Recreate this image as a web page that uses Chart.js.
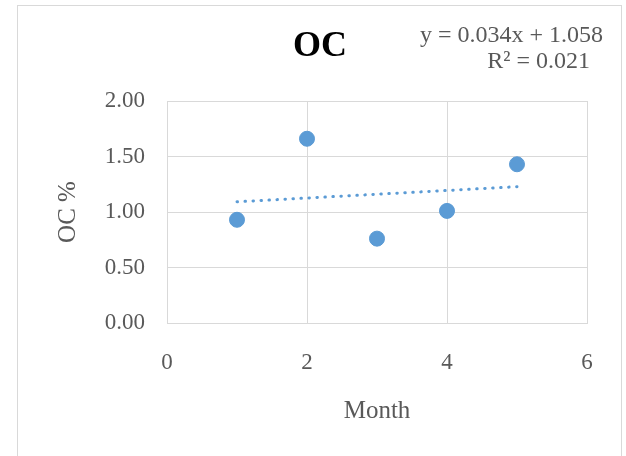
<!DOCTYPE html>
<html>
<head>
<meta charset="utf-8">
<script src="https://cdn.jsdelivr.net/npm/chart.js@4.4.0/dist/chart.umd.min.js"></script>
<style>
  html, body { margin: 0; padding: 0; background: #fff; }
  canvas { display: block; }
</style>
</head>
<body>
<canvas id="ocChart" width="626" height="456"></canvas>
<script>
// data
const months = [1, 2, 3, 4, 5];
const ocValues = [0.93, 1.66, 0.76, 1.01, 1.43];
// trendline ends (linear fit shown on the chart)
const trendX = [1, 5];
const trendY = [1.092, 1.228];
const xTicks = [0, 2, 4, 6];
const yTicks = [0, 0.5, 1, 1.5, 2];
const equation = ["y = 0.034x + 1.058", "R² = 0.021"];

const serif = "'Liberation Serif', 'Times New Roman', serif";
const grey = "#595959";
const blue = "#5B9BD5";

// outer frame, title and the trendline label
const decor = {
  id: "decor",
  beforeDraw(chart) {
    const ctx = chart.ctx;
    ctx.save();
    ctx.fillStyle = "#fff";
    ctx.fillRect(0, 0, chart.width, chart.height);
    ctx.strokeStyle = "#d9d9d9";
    ctx.lineWidth = 1;
    ctx.strokeRect(17.5, 5.5, 604, 470);
    ctx.restore();
  },
  afterDraw(chart) {
    const ctx = chart.ctx;
    ctx.save();
    ctx.fillStyle = "#000";
    ctx.font = "bold 36px " + serif;
    ctx.textAlign = "center";
    ctx.textBaseline = "middle";
    ctx.fillText("OC", 320, 47);

    ctx.fillStyle = grey;
    ctx.font = "24px " + serif;
    ctx.textAlign = "right";
    ctx.textBaseline = "alphabetic";
    ctx.fillText(equation[0], 603, 42);
    ctx.fillText(equation[1], 590, 68);
    ctx.restore();
  }
};

new Chart(document.getElementById("ocChart"), {
  type: "scatter",
  data: {
    datasets: [
      {
        label: "OC",
        data: months.map((m, i) => ({ x: m, y: ocValues[i] })),
        backgroundColor: blue,
        borderColor: blue,
        pointRadius: 7.5,
        pointHoverRadius: 7.5,
        order: 1
      },
      {
        label: "Linear (OC)",
        type: "line",
        data: trendX.map((m, i) => ({ x: m, y: trendY[i] })),
        borderColor: blue,
        borderWidth: 3,
        borderDash: [0.5, 7.5],
        borderCapStyle: "round",
        pointRadius: 0,
        fill: false,
        order: 2
      }
    ]
  },
  options: {
    responsive: false,
    animation: false,
    layout: { padding: { left: 18, right: 39, top: 101, bottom: 30 } },
    plugins: {
      legend: { display: false },
      title: { display: false },
      tooltip: { enabled: false }
    },
    scales: {
      x: {
        type: "linear",
        min: 0,
        max: 6,
        afterBuildTicks: (scale) => { scale.ticks = xTicks.map(v => ({ value: v })); },
        afterFit: (scale) => { scale.height = 103; },
        grid: { color: "#d9d9d9", drawTicks: false },
        border: { color: "#d9d9d9" },
        ticks: { padding: 26, color: grey, font: { family: serif, size: 23 } },
        title: {
          display: true,
          text: "Month",
          color: grey,
          padding: { top: 0, bottom: 0 },
          font: { family: serif, size: 25 }
        }
      },
      y: {
        min: 0,
        max: 2,
        afterBuildTicks: (scale) => { scale.ticks = yTicks.map(v => ({ value: v })); },
        afterFit: (scale) => { scale.width = 149; },
        grid: { color: "#d9d9d9", drawTicks: false },
        border: { color: "#d9d9d9" },
        ticks: {
          padding: 22,
          color: grey,
          font: { family: serif, size: 23 },
          callback: (v) => v.toFixed(2)
        },
        title: {
          display: true,
          text: "OC %",
          color: grey,
          padding: { top: 35, bottom: 0 },
          font: { family: serif, size: 25 }
        }
      }
    }
  },
  plugins: [decor]
});
</script>
</body>
</html>
